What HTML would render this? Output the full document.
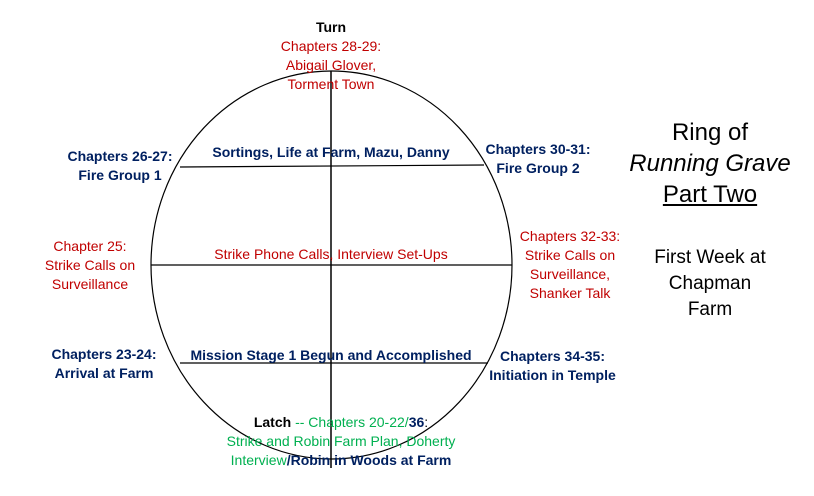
<!DOCTYPE html>
<html><head><style>
body{margin:0;width:814px;height:496px;background:#fff;overflow:hidden;position:relative;font-family:"Liberation Sans",sans-serif;}
.t{position:absolute;text-align:center;font-size:14px;line-height:19px;white-space:nowrap;}
.n{color:#002060;font-weight:bold;}
.r{color:#c00000;}
.g{color:#00b050;}
.k{color:#000;font-weight:bold;}
</style></head><body>
<svg width="814" height="496" style="position:absolute;left:0;top:0">
<ellipse cx="331.5" cy="265" rx="180.5" ry="194" fill="none" stroke="#000" stroke-width="1.2"/>
<line x1="331" y1="71" x2="331" y2="468" stroke="#000" stroke-width="1.5"/>
<line x1="151" y1="265" x2="512" y2="265" stroke="#000" stroke-width="1.2"/>
<line x1="180" y1="167" x2="484" y2="165" stroke="#000" stroke-width="1.2"/>
<line x1="180" y1="363" x2="488" y2="363" stroke="#000" stroke-width="1.2"/>
</svg>
<div class="t" style="left:231px;width:200px;top:18px"><span class="k">Turn</span><br><span class="r">Chapters 28-29:<br>Abigail Glover,<br>Torment Town</span></div>
<div class="t n" style="left:190px;width:282px;top:143px">Sortings, Life at Farm, Mazu, Danny</div>
<div class="t n" style="left:50px;width:140px;top:147px">Chapters 26-27:<br>Fire Group 1</div>
<div class="t n" style="left:468px;width:140px;top:140px">Chapters 30-31:<br>Fire Group 2</div>
<div class="t r" style="left:180px;width:302px;top:245px">Strike Phone Calls, Interview Set-Ups</div>
<div class="t r" style="left:30px;width:120px;top:237px">Chapter 25:<br>Strike Calls on<br>Surveillance</div>
<div class="t r" style="left:500px;width:140px;top:227px">Chapters 32-33:<br>Strike Calls on<br>Surveillance,<br>Shanker Talk</div>
<div class="t n" style="left:180px;width:302px;top:346px">Mission Stage 1 Begun and Accomplished</div>
<div class="t n" style="left:34px;width:140px;top:345px">Chapters 23-24:<br>Arrival at Farm</div>
<div class="t n" style="left:480px;width:145px;top:347px">Chapters 34-35:<br>Initiation in Temple</div>
<div class="t" style="left:191px;width:300px;top:413px"><span class="k">Latch</span> <span class="g">-- Chapters 20-22/</span><span class="n">36</span>:<br><span class="g">Strike and Robin Farm Plan, Doherty<br>Interview</span><span class="n">/Robin in Woods at Farm</span></div>
<div class="t" style="left:610px;width:200px;top:117px;font-size:24px;line-height:31px;color:#000">Ring of<br><i>Running Grave</i><br><u>Part Two</u></div>
<div class="t" style="left:610px;width:200px;top:245px;font-size:19px;line-height:26px;color:#000">First Week at<br>Chapman<br>Farm</div>
</body></html>
